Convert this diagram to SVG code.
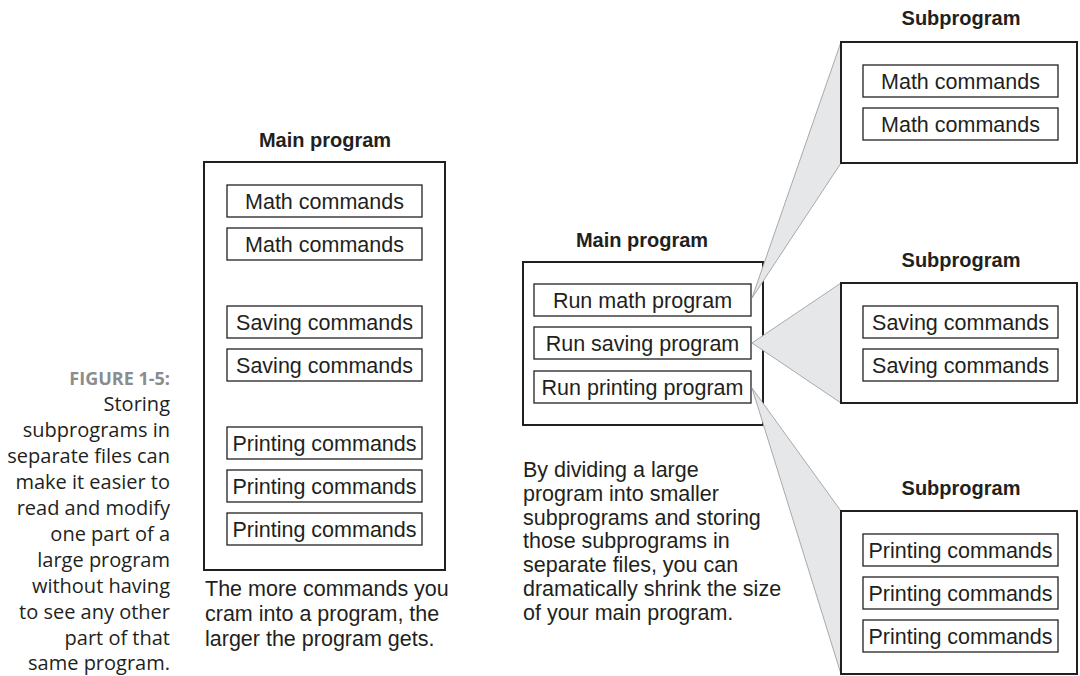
<svg xmlns="http://www.w3.org/2000/svg" width="1080" height="676" viewBox="0 0 1080 676">
<style>
.outer{fill:#fff;stroke:#231f20;stroke-width:2}
.cmd{fill:#fff;stroke:#231f20;stroke-width:1.3}
.t{font-family:"Liberation Sans",Arial,sans-serif;font-size:21.5px;fill:#231f20;text-anchor:middle}
.h{font-family:"Liberation Sans",Arial,sans-serif;font-size:20px;font-weight:bold;fill:#231f20;text-anchor:middle}
.cap{font-family:"Liberation Sans",Arial,sans-serif;font-size:21.5px;fill:#231f20}
.fig{font-family:"Open Sans",sans-serif;font-size:20px;fill:#231f20;text-anchor:end}
.fign{font-family:"Open Sans",sans-serif;font-size:18px;font-weight:bold;fill:#8a8c8e}
.wedge{fill:#e6e7e8;stroke:#a7a9ac;stroke-width:1}
</style>
<rect width="1080" height="676" fill="#fff"/>
<g id="caption">
<text class="fig"><tspan x="170" y="385" class="fign">FIGURE 1-5:</tspan><tspan x="170" y="411">Storing</tspan><tspan x="170" y="437">subprograms in</tspan><tspan x="170" y="463">separate files can</tspan><tspan x="170" y="489">make it easier to</tspan><tspan x="170" y="515">read and modify</tspan><tspan x="170" y="541">one part of a</tspan><tspan x="170" y="567">large program</tspan><tspan x="170" y="593">without having</tspan><tspan x="170" y="619">to see any other</tspan><tspan x="170" y="645">part of that</tspan><tspan x="170" y="670">same program.</tspan></text>
</g>
<g id="main-left">
<text class="h" x="325" y="147">Main program</text>
<rect class="outer" x="204" y="162" width="241" height="408"/>
<rect class="cmd" x="227" y="185" width="195" height="32"/><text class="t" x="324.5" y="209">Math commands</text>
<rect class="cmd" x="227" y="228" width="195" height="32"/><text class="t" x="324.5" y="252">Math commands</text>
<rect class="cmd" x="227" y="306" width="195" height="32"/><text class="t" x="324.5" y="330">Saving commands</text>
<rect class="cmd" x="227" y="349" width="195" height="32"/><text class="t" x="324.5" y="373">Saving commands</text>
<rect class="cmd" x="227" y="427" width="195" height="32"/><text class="t" x="324.5" y="451">Printing commands</text>
<rect class="cmd" x="227" y="470" width="195" height="32"/><text class="t" x="324.5" y="494">Printing commands</text>
<rect class="cmd" x="227" y="513" width="195" height="32"/><text class="t" x="324.5" y="537">Printing commands</text>
<text class="cap"><tspan x="205" y="596">The more commands you</tspan><tspan x="205" y="621">cram into a program, the</tspan><tspan x="205" y="646">larger the program gets.</tspan></text>
</g>
<g id="main-right">
<text class="h" x="642" y="247">Main program</text>
<rect class="outer" x="523" y="262" width="240" height="163"/>
<rect class="cmd" x="534" y="284" width="217" height="32"/><text class="t" x="642.5" y="308">Run math program</text>
<rect class="cmd" x="534" y="327" width="217" height="32"/><text class="t" x="642.5" y="351">Run saving program</text>
<rect class="cmd" x="534" y="371" width="217" height="32"/><text class="t" x="642.5" y="395">Run printing program</text>
<text class="cap"><tspan x="523" y="477">By dividing a large</tspan><tspan x="523" y="501">program into smaller</tspan><tspan x="523" y="525">subprograms and storing</tspan><tspan x="523" y="548">those subprograms in</tspan><tspan x="523" y="572">separate files, you can</tspan><tspan x="523" y="596">dramatically shrink the size</tspan><tspan x="523" y="620">of your main program.</tspan></text>
</g>
<g id="connectors">
<polygon class="wedge" points="752,298 841,42 841,163"/>
<polygon class="wedge" points="752,343 841,283 841,403"/>
<polygon class="wedge" points="752,388 841,511 841,674"/>
</g>
<g id="sub-math">
<text class="h" x="961" y="25">Subprogram</text>
<rect class="outer" x="841" y="42" width="236" height="121"/>
<rect class="cmd" x="863" y="65" width="195" height="32"/><text class="t" x="960.5" y="89">Math commands</text>
<rect class="cmd" x="863" y="108" width="195" height="32"/><text class="t" x="960.5" y="132">Math commands</text>
</g>
<g id="sub-saving">
<text class="h" x="961" y="267">Subprogram</text>
<rect class="outer" x="841" y="283" width="236" height="120"/>
<rect class="cmd" x="863" y="306" width="195" height="32"/><text class="t" x="960.5" y="330">Saving commands</text>
<rect class="cmd" x="863" y="349" width="195" height="32"/><text class="t" x="960.5" y="373">Saving commands</text>
</g>
<g id="sub-printing">
<text class="h" x="961" y="495">Subprogram</text>
<rect class="outer" x="841" y="511" width="236" height="163"/>
<rect class="cmd" x="863" y="534" width="195" height="32"/><text class="t" x="960.5" y="558">Printing commands</text>
<rect class="cmd" x="863" y="577" width="195" height="32"/><text class="t" x="960.5" y="601">Printing commands</text>
<rect class="cmd" x="863" y="620" width="195" height="32"/><text class="t" x="960.5" y="644">Printing commands</text>
</g>
</svg>
